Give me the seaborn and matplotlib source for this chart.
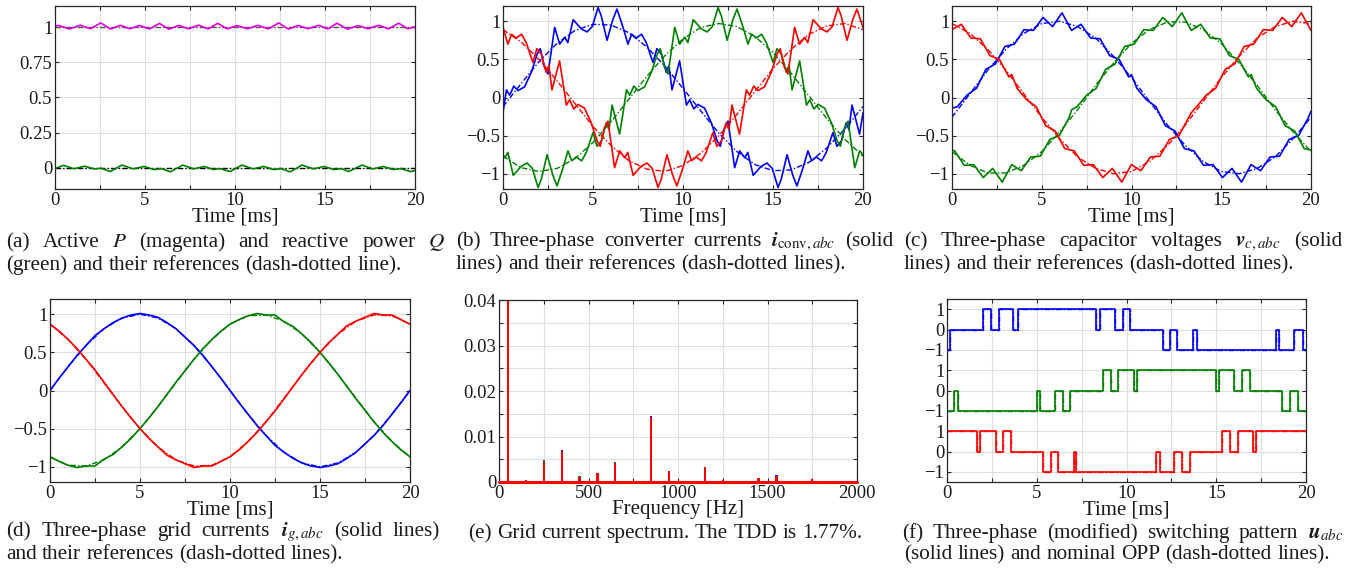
import matplotlib
matplotlib.use("Agg")
import matplotlib.pyplot as plt
import seaborn as sns

# ---------------- data ----------------
# (a) active / reactive power, (t [ms], value)
power_p = [(0.00, 1.008), (0.20, 1.012), (0.80, 0.987), (1.41, 1.014), (1.97, 0.988), (2.54, 1.030),
           (3.08, 0.986), (3.63, 1.013), (4.16, 0.988), (4.69, 1.012), (5.25, 0.987), (5.80, 1.026),
           (6.33, 0.985), (6.87, 1.012), (7.42, 0.988), (7.98, 1.014), (8.51, 0.987), (9.04, 1.027),
           (9.57, 0.987), (10.11, 1.011), (10.70, 0.988), (11.28, 1.013), (11.85, 0.987), (12.43, 1.030),
           (12.96, 0.986), (13.50, 1.012), (14.07, 0.988), (14.65, 1.013), (15.16, 0.987), (15.67, 1.028),
           (16.25, 0.985), (16.83, 1.011), (17.40, 0.988), (17.98, 1.013), (18.53, 0.987), (19.09, 1.028),
           (19.60, 0.988), (20.00, 1.003)]
power_q = [(0.00, -0.004), (0.48, 0.018), (1.05, -0.006), (1.65, 0.012), (2.20, -0.008), (2.55, -0.002),
           (3.07, -0.026), (3.72, 0.020), (4.35, -0.007), (4.95, 0.010), (5.50, -0.012), (5.90, -0.005),
           (6.41, -0.028), (7.09, 0.020), (7.70, -0.007), (8.30, 0.010), (8.80, -0.012), (9.15, -0.005),
           (9.72, -0.026), (10.39, 0.020), (11.00, -0.007), (11.60, 0.010), (12.15, -0.012), (12.55, -0.005),
           (13.07, -0.028), (13.72, 0.020), (14.35, -0.007), (14.95, 0.010), (15.50, -0.012), (15.90, -0.005),
           (16.31, -0.026), (17.06, 0.020), (17.65, -0.007), (18.25, 0.010), (18.80, -0.012), (19.20, -0.005),
           (19.74, -0.026), (20.00, -0.020)]
p_ref = [(0, 1.0), (20, 1.0)]
q_ref = [(0, 0.0), (20, 0.0)]

# references on a 1 ms grid
ref_time = [0, 1, 2, 3, 4, 5, 6, 7, 8, 9, 10, 11, 12, 13, 14, 15, 16, 17, 18, 19, 20]

# (b) converter currents
conv_a = [(0.00, -0.20), (0.19, 0.10), (0.37, 0.03), (0.60, 0.15), (0.83, 0.09), (1.20, 0.14), (1.57, 0.33),
          (1.90, 0.57), (2.07, 0.64), (2.30, 0.40), (2.50, 0.31), (2.87, 0.92), (3.15, 0.70), (3.43, 0.79),
          (3.60, 0.72), (3.90, 1.02), (4.35, 0.90), (4.67, 0.86), (4.96, 0.93), (5.28, 1.18), (5.46, 1.07),
          (5.78, 0.75), (6.10, 1.02), (6.33, 1.16), (6.67, 0.92), (6.94, 0.70), (7.15, 0.83), (7.40, 0.78),
          (7.70, 0.83), (7.96, 0.72), (8.33, 0.46), (8.55, 0.64), (8.80, 0.57), (9.07, 0.33), (9.22, 0.42),
          (9.39, 0.10), (9.81, 0.48), (10.00, 0.20), (10.19, -0.10), (10.37, -0.03), (10.60, -0.15),
          (10.83, -0.09), (11.20, -0.14), (11.57, -0.33), (11.90, -0.57), (12.07, -0.64), (12.30, -0.40),
          (12.50, -0.31), (12.87, -0.92), (13.15, -0.70), (13.43, -0.79), (13.60, -0.72), (13.90, -1.02),
          (14.35, -0.90), (14.67, -0.86), (14.96, -0.93), (15.28, -1.18), (15.46, -1.07), (15.78, -0.75),
          (16.10, -1.02), (16.33, -1.16), (16.67, -0.92), (16.94, -0.70), (17.15, -0.83), (17.40, -0.78),
          (17.70, -0.83), (17.96, -0.72), (18.33, -0.46), (18.55, -0.64), (18.80, -0.57), (19.07, -0.33),
          (19.22, -0.42), (19.39, -0.10), (19.81, -0.48), (20.00, -0.20)]
conv_b = [(0.00, -0.75), (0.10, -0.79), (0.27, -0.72), (0.57, -1.02), (1.02, -0.90), (1.34, -0.86), (1.63, -0.93),
          (1.95, -1.18), (2.13, -1.07), (2.45, -0.75), (2.77, -1.02), (3.00, -1.16), (3.34, -0.92), (3.61, -0.70),
          (3.82, -0.83), (4.07, -0.78), (4.37, -0.83), (4.63, -0.72), (5.00, -0.46), (5.22, -0.64), (5.47, -0.57),
          (5.74, -0.33), (5.89, -0.42), (6.06, -0.10), (6.48, -0.48), (6.67, -0.20), (6.86, 0.10), (7.04, 0.03),
          (7.27, 0.15), (7.50, 0.09), (7.87, 0.14), (8.24, 0.33), (8.57, 0.57), (8.74, 0.64), (8.97, 0.40),
          (9.17, 0.31), (9.54, 0.92), (9.82, 0.70), (10.10, 0.79), (10.27, 0.72), (10.57, 1.02), (11.02, 0.90),
          (11.34, 0.86), (11.63, 0.93), (11.95, 1.18), (12.13, 1.07), (12.45, 0.75), (12.77, 1.02), (13.00, 1.16),
          (13.34, 0.92), (13.61, 0.70), (13.82, 0.83), (14.07, 0.78), (14.37, 0.83), (14.63, 0.72), (15.00, 0.46),
          (15.22, 0.64), (15.47, 0.57), (15.74, 0.33), (15.89, 0.42), (16.06, 0.10), (16.48, 0.48), (16.67, 0.20),
          (16.86, -0.10), (17.04, -0.03), (17.27, -0.15), (17.50, -0.09), (17.87, -0.14), (18.24, -0.33),
          (18.57, -0.57), (18.74, -0.64), (18.97, -0.40), (19.17, -0.31), (19.54, -0.92), (19.82, -0.70),
          (20.00, -0.75)]
conv_c = [(0.00, 0.92), (0.27, 0.70), (0.48, 0.83), (0.73, 0.78), (1.03, 0.83), (1.29, 0.72), (1.66, 0.46),
          (1.88, 0.64), (2.13, 0.57), (2.40, 0.33), (2.55, 0.42), (2.72, 0.10), (3.14, 0.48), (3.33, 0.20),
          (3.52, -0.10), (3.70, -0.03), (3.93, -0.15), (4.16, -0.09), (4.53, -0.14), (4.90, -0.33), (5.23, -0.57),
          (5.40, -0.64), (5.63, -0.40), (5.83, -0.31), (6.20, -0.92), (6.48, -0.70), (6.76, -0.79), (6.93, -0.72),
          (7.23, -1.02), (7.68, -0.90), (8.00, -0.86), (8.29, -0.93), (8.61, -1.18), (8.79, -1.07), (9.11, -0.75),
          (9.43, -1.02), (9.66, -1.16), (10.00, -0.92), (10.27, -0.70), (10.48, -0.83), (10.73, -0.78),
          (11.03, -0.83), (11.29, -0.72), (11.66, -0.46), (11.88, -0.64), (12.13, -0.57), (12.40, -0.33),
          (12.55, -0.42), (12.72, -0.10), (13.14, -0.48), (13.33, -0.20), (13.52, 0.10), (13.70, 0.03),
          (13.93, 0.15), (14.16, 0.09), (14.53, 0.14), (14.90, 0.33), (15.23, 0.57), (15.40, 0.64), (15.63, 0.40),
          (15.83, 0.31), (16.20, 0.92), (16.48, 0.70), (16.76, 0.79), (16.93, 0.72), (17.23, 1.02), (17.68, 0.90),
          (18.00, 0.86), (18.29, 0.93), (18.61, 1.18), (18.79, 1.07), (19.11, 0.75), (19.43, 1.02), (19.66, 1.16),
          (20.00, 0.92)]
conv_ref_a = [-0.12, 0.18, 0.47, 0.71, 0.88, 0.96, 0.95, 0.85, 0.66, 0.41, 0.12, -0.18, -0.47, -0.71, -0.88,
              -0.96, -0.95, -0.85, -0.66, -0.41, -0.12]
conv_ref_b = [-0.77, -0.92, -0.97, -0.93, -0.80, -0.59, -0.32, -0.02, 0.28, 0.55, 0.77, 0.92, 0.97, 0.93, 0.80,
              0.59, 0.32, 0.02, -0.28, -0.55, -0.77]
conv_ref_c = [0.89, 0.73, 0.50, 0.22, -0.08, -0.38, -0.63, -0.83, -0.94, -0.97, -0.89, -0.73, -0.50, -0.22, 0.08,
              0.38, 0.63, 0.83, 0.94, 0.97, 0.89]

# (c) capacitor voltages
cap_a = [(0.00, -0.14), (0.30, -0.12), (0.83, 0.03), (1.36, 0.12), (1.89, 0.37), (2.42, 0.44), (2.95, 0.67),
         (3.48, 0.70), (4.01, 0.89), (4.54, 0.88), (5.07, 1.05), (5.60, 0.93), (6.13, 1.11), (6.66, 0.88),
         (7.19, 0.96), (7.72, 0.78), (8.25, 0.77), (8.78, 0.55), (9.31, 0.50), (9.84, 0.27), (10.00, 0.30),
         (10.30, 0.12), (10.83, -0.03), (11.36, -0.12), (11.89, -0.37), (12.42, -0.44), (12.95, -0.67),
         (13.48, -0.70), (14.01, -0.89), (14.54, -0.88), (15.07, -1.05), (15.60, -0.93), (16.13, -1.11),
         (16.66, -0.88), (17.19, -0.96), (17.72, -0.78), (18.25, -0.77), (18.78, -0.55), (19.31, -0.50),
         (19.84, -0.27), (20.00, -0.18)]
cap_b = [(0.00, -0.69), (0.15, -0.70), (0.68, -0.89), (1.21, -0.88), (1.74, -1.05), (2.27, -0.93), (2.80, -1.11),
         (3.33, -0.88), (3.86, -0.96), (4.39, -0.78), (4.92, -0.77), (5.45, -0.55), (5.98, -0.50), (6.51, -0.27),
         (6.67, -0.16), (6.97, -0.12), (7.50, 0.03), (8.03, 0.12), (8.56, 0.37), (9.09, 0.44), (9.62, 0.67),
         (10.15, 0.70), (10.68, 0.89), (11.21, 0.88), (11.74, 1.05), (12.27, 0.93), (12.80, 1.11), (13.33, 0.88),
         (13.86, 0.96), (14.39, 0.78), (14.92, 0.77), (15.45, 0.55), (15.98, 0.50), (16.51, 0.27), (16.67, 0.30),
         (16.97, 0.12), (17.50, -0.03), (18.03, -0.12), (18.56, -0.37), (19.09, -0.44), (19.62, -0.67),
         (20.00, -0.69)]
cap_c = [(0.00, 0.89), (0.52, 0.96), (1.05, 0.78), (1.58, 0.77), (2.11, 0.55), (2.64, 0.50), (3.17, 0.27),
         (3.33, 0.30), (3.63, 0.12), (4.16, -0.03), (4.69, -0.12), (5.22, -0.37), (5.75, -0.44), (6.28, -0.67),
         (6.81, -0.70), (7.34, -0.89), (7.87, -0.88), (8.40, -1.05), (8.93, -0.93), (9.46, -1.11), (9.99, -0.88),
         (10.52, -0.96), (11.05, -0.78), (11.58, -0.77), (12.11, -0.55), (12.64, -0.50), (13.17, -0.27),
         (13.33, -0.20), (13.63, -0.12), (14.16, 0.03), (14.69, 0.12), (15.22, 0.37), (15.75, 0.44), (16.28, 0.67),
         (16.81, 0.70), (17.34, 0.89), (17.87, 0.88), (18.40, 1.05), (18.93, 0.93), (19.46, 1.11), (20.00, 0.88)]
cap_ref_a = [-0.26, 0.05, 0.36, 0.63, 0.84, 0.97, 1.00, 0.93, 0.78, 0.54, 0.26, -0.05, -0.36, -0.63, -0.84,
             -0.97, -1.00, -0.93, -0.78, -0.54, -0.26]
cap_ref_b = [-0.71, -0.89, -0.99, -0.99, -0.89, -0.71, -0.45, -0.16, 0.16, 0.45, 0.71, 0.89, 0.99, 0.99, 0.89,
             0.71, 0.45, 0.16, -0.16, -0.45, -0.71]
cap_ref_c = [0.97, 0.84, 0.63, 0.36, 0.05, -0.26, -0.54, -0.78, -0.93, -1.00, -0.97, -0.84, -0.63, -0.36, -0.05,
             0.26, 0.54, 0.78, 0.93, 1.00, 0.97]

# (d) grid currents, 0.5 ms grid
grid_time = [0, 0.5, 1, 1.5, 2, 2.5, 3, 3.5, 4, 4.5, 5, 5.5, 6, 6.5, 7, 7.5, 8, 8.5, 9, 9.5, 10,
             10.5, 11, 11.5, 12, 12.5, 13, 13.5, 14, 14.5, 15, 15.5, 16, 16.5, 17, 17.5, 18, 18.5, 19, 19.5, 20]
grid_a = [0.00, 0.16, 0.31, 0.46, 0.59, 0.72, 0.81, 0.89, 0.95, 0.99, 1.01, 0.99, 0.96, 0.89, 0.81, 0.70, 0.59,
          0.46, 0.31, 0.16, 0.00, -0.16, -0.31, -0.46, -0.59, -0.72, -0.81, -0.89, -0.95, -0.99, -1.01, -0.99,
          -0.96, -0.89, -0.81, -0.70, -0.59, -0.46, -0.31, -0.16, 0.00]
grid_b = [-0.87, -0.93, -0.98, -1.01, -0.99, -0.99, -0.90, -0.84, -0.74, -0.63, -0.50, -0.36, -0.21, -0.05, 0.11,
          0.26, 0.41, 0.55, 0.67, 0.78, 0.87, 0.93, 0.98, 1.01, 0.99, 0.99, 0.90, 0.84, 0.74, 0.63, 0.50, 0.36,
          0.21, 0.05, -0.11, -0.26, -0.41, -0.55, -0.67, -0.78, -0.87]
grid_c = [0.87, 0.78, 0.67, 0.55, 0.41, 0.27, 0.11, -0.05, -0.21, -0.36, -0.50, -0.63, -0.74, -0.85, -0.91, -0.96,
          -1.01, -0.99, -0.99, -0.93, -0.87, -0.78, -0.67, -0.55, -0.41, -0.27, -0.11, 0.05, 0.21, 0.36, 0.50,
          0.63, 0.74, 0.85, 0.91, 0.96, 1.01, 0.99, 0.99, 0.93, 0.87]
grid_ref_a = [0.00, 0.31, 0.59, 0.81, 0.95, 1.00, 0.95, 0.81, 0.59, 0.31, 0.00, -0.31, -0.59, -0.81, -0.95,
              -1.00, -0.95, -0.81, -0.59, -0.31, 0.00]
grid_ref_b = [-0.87, -0.98, -0.99, -0.91, -0.74, -0.50, -0.21, 0.10, 0.41, 0.67, 0.87, 0.98, 0.99, 0.91, 0.74,
              0.50, 0.21, -0.10, -0.41, -0.67, -0.87]
grid_ref_c = [0.87, 0.67, 0.41, 0.10, -0.21, -0.50, -0.74, -0.91, -0.99, -0.98, -0.87, -0.67, -0.41, -0.10, 0.21,
              0.50, 0.74, 0.91, 0.99, 0.98, 0.87]

# (e) grid current spectrum
harm_freq = [50, 150, 250, 350, 450, 550, 650, 850, 950, 1150, 1250, 1450, 1550, 1750, 1850]
spec_a = [1.0, 0.0003, 0.0044, 0.0070, 0.0010, 0.0017, 0.0041, 0.0144, 0.0024, 0.0032, 0.0004, 0.0008, 0.0015, 0.0006, 0.0002]
spec_b = [1.0, 0.0003, 0.0048, 0.0066, 0.0013, 0.0018, 0.0043, 0.0142, 0.0024, 0.0031, 0.0004, 0.0007, 0.0013, 0.0005, 0.0002]
spec_c = [1.0, 0.0004, 0.0045, 0.0068, 0.0011, 0.0019, 0.0042, 0.0143, 0.0025, 0.0032, 0.0005, 0.0008, 0.0014, 0.0006, 0.0002]

# (f) switching pattern: (switching instant [ms], level)
sw_a = [(0, -1), (0.19, 0), (2.00, 1), (2.45, 0), (2.90, 1), (3.70, 0), (3.93, 1), (8.31, 0), (8.53, 1),
        (9.37, 0), (9.78, 1), (10.20, 0), (12.02, -1), (12.43, 0), (12.84, -1), (13.69, 0), (13.91, -1),
        (18.31, 0), (18.52, -1), (19.33, 0), (19.81, -1), (20, -1)]
sw_b = [(0, -1), (0.37, 0), (0.59, -1), (5.01, 0), (5.19, -1), (6.03, 0), (6.44, -1), (6.86, 0), (8.68, 1),
        (9.13, 0), (9.55, 1), (10.39, 0), (10.58, 1), (14.97, 0), (15.18, 1), (16.01, 0), (16.42, 1),
        (16.88, 0), (18.65, -1), (19.11, 0), (19.54, -1), (20, -1)]
sw_c = [(0, 1), (1.67, 0), (1.86, 1), (2.73, 0), (3.12, 1), (3.56, 0), (5.34, -1), (5.79, 0), (6.20, -1),
        (7.05, 0), (7.20, -1), (11.63, 0), (11.84, -1), (12.67, 0), (13.10, -1), (13.54, 0), (15.32, 1),
        (15.77, 0), (16.20, 1), (17.03, 0), (17.22, 1), (20, 1)]

time_ticks = [0, 2.5, 5, 7.5, 10, 12.5, 15, 17.5, 20]
time_labels = ["0", "", "5", "", "10", "", "15", "", "20"]
pm_ticks = [-1, -0.5, 0, 0.5, 1]
pm_labels = ["\u22121", "\u22120.5", "0", "0.5", "1"]

# ---------------- styling ----------------
sns.set_style("ticks")
plt.rcParams["font.family"] = ["Liberation Serif", "DejaVu Serif"]
plt.rcParams["mathtext.fontset"] = "stix"

BLUE, GREEN, RED, MAG = "#0000ff", "#008000", "#ff0000", "#e000e0"
INK = "#1a1a1a"
DASHDOT = (0, (4, 1.5, 1, 1.5))
W, H = 1365, 572
fig = plt.figure(figsize=(W / 100, H / 100), dpi=100)


def make_ax(l, t, r, b):
    return fig.add_axes([l / W, 1 - b / H, (r - l) / W, (b - t) / H])


def style_ax(ax, xt, xl, yt, yl, xlim, ylim, xlabel):
    ax.set_xlim(xlim)
    ax.set_ylim(ylim)
    ax.set_xticks(xt)
    ax.set_xticklabels(xl)
    ax.set_yticks(yt)
    ax.set_yticklabels(yl)
    ax.grid(True, color="#dedede", lw=0.8)
    ax.set_axisbelow(True)
    ax.tick_params(direction="in", top=True, right=True, length=3, width=0.8,
                   color="#262626", labelsize=13.4, pad=2.0, labelcolor=INK)
    for s in ax.spines.values():
        s.set_visible(True)
        s.set_color("#262626")
        s.set_linewidth(0.9)
    ax.set_xlabel(xlabel, fontsize=15, color=INK)
    ax.xaxis.set_label_coords(0.5, -0.152)
    ax.xaxis.label.set_va("center")


def trace(ax, pts, color, lw=1.2, ls="-", **kw):
    sns.lineplot(x=[p[0] for p in pts], y=[p[1] for p in pts], ax=ax, color=color,
                 lw=lw, linestyle=ls, estimator=None, sort=False, **kw)


def ref_trace(ax, vals, color):
    sns.lineplot(x=ref_time, y=vals, ax=ax, color=color, lw=1.0,
                 linestyle=DASHDOT, estimator=None, sort=False)


# (a)
ax = make_ax(55, 6, 415, 189)
trace(ax, p_ref, "#555555", lw=1.0, ls=DASHDOT)
trace(ax, q_ref, "#000000", lw=1.0, ls=DASHDOT)
trace(ax, power_p, MAG, lw=1.2)
trace(ax, power_q, GREEN, lw=1.2)
style_ax(ax, time_ticks, time_labels, [0, 0.25, 0.5, 0.75, 1], ["0", "0.25", "0.5", "0.75", "1"],
         (0, 20), (-0.15, 1.15), "Time [ms]")

# (b)
ax = make_ax(503, 6, 863, 189)
for vals, col in [(conv_ref_a, BLUE), (conv_ref_b, GREEN), (conv_ref_c, RED)]:
    ref_trace(ax, vals, col)
for pts, col in [(conv_a, BLUE), (conv_b, GREEN), (conv_c, RED)]:
    trace(ax, pts, col)
style_ax(ax, time_ticks, time_labels, pm_ticks, pm_labels, (0, 20), (-1.2, 1.2), "Time [ms]")

# (c)
ax = make_ax(952, 6, 1311, 189)
for vals, col in [(cap_ref_a, BLUE), (cap_ref_b, GREEN), (cap_ref_c, RED)]:
    ref_trace(ax, vals, col)
for pts, col in [(cap_a, BLUE), (cap_b, GREEN), (cap_c, RED)]:
    trace(ax, pts, col)
style_ax(ax, time_ticks, time_labels, pm_ticks, pm_labels, (0, 20), (-1.2, 1.2), "Time [ms]")

# (d)
ax = make_ax(50, 299, 410, 482)
for vals, col in [(grid_ref_a, BLUE), (grid_ref_b, GREEN), (grid_ref_c, RED)]:
    ref_trace(ax, vals, col)
for vals, col in [(grid_a, BLUE), (grid_b, GREEN), (grid_c, RED)]:
    sns.lineplot(x=grid_time, y=vals, ax=ax, color=col, lw=1.2, estimator=None, sort=False)
style_ax(ax, time_ticks, time_labels, pm_ticks, pm_labels, (0, 20), (-1.2, 1.2), "Time [ms]")

# (e)
ax = make_ax(499, 300, 857, 482)
for vals, col in [(spec_a, BLUE), (spec_b, GREEN), (spec_c, RED)]:
    ax.bar(harm_freq, vals, width=12, color=col, linewidth=0)
ax.axhline(0, color=RED, lw=2.2, clip_on=False, zorder=3)
style_ax(ax, [0, 250, 500, 750, 1000, 1250, 1500, 1750, 2000],
         ["0", "", "500", "", "1000", "", "1500", "", "2000"],
         [0, 0.005, 0.01, 0.015, 0.02, 0.025, 0.03, 0.035, 0.04],
         ["0", "", "0.01", "", "0.02", "", "0.03", "", "0.04"],
         (0, 2000), (0, 0.04), "Frequency [Hz]")

# (f)
ax = make_ax(947, 299, 1306, 482)
offsets = [(sw_a, BLUE, 3), (sw_b, GREEN, 0), (sw_c, RED, -3)]
for pts, col, off in offsets:
    shifted = [(t, v + off) for t, v in pts]
    trace(ax, shifted, col, lw=1.0, ls=DASHDOT, drawstyle="steps-post")
    trace(ax, shifted, col, lw=1.2, drawstyle="steps-post")
style_ax(ax, time_ticks, time_labels, [-4, -3, -2, -1, 0, 1, 2, 3, 4],
         ["\u22121", "0", "1", "\u22121", "0", "1", "\u22121", "0", "1"],
         (0, 20), (-4.5, 4.5), "Time [ms]")

# ---------------- captions ----------------
renderer = fig.canvas.get_renderer()
CAP = 15.3
SPACE = 0.25 * CAP * 100 / 72


def caption(text, x0, y, x1=None, center=False):
    words = text.split(" ")
    objs = [fig.text(0, 1 - y / H, w, fontsize=CAP, va="baseline", ha="left", color=INK) for w in words]
    widths = [o.get_window_extent(renderer).width for o in objs]
    gap = SPACE
    start = x0
    if center:
        start = x0 - (sum(widths) + SPACE * (len(words) - 1)) / 2
    elif x1 is not None:
        gap = (x1 - x0 - sum(widths)) / (len(words) - 1)
    x = start
    for o, w in zip(objs, widths):
        o.set_x(x / W)
        x += w + gap


caption(r"(a) Active $P$ (magenta) and reactive power $Q$", 6, 247, 445)
caption("(green) and their references (dash-dotted line).", 6, 270)
caption(r"(b) Three-phase converter currents $\boldsymbol{i}_{\mathrm{conv},abc}$ (solid", 456, 246, 893)
caption("lines) and their references (dash-dotted lines).", 456, 269)
caption(r"(c) Three-phase capacitor voltages $\boldsymbol{v}_{c,abc}$ (solid", 904, 246, 1342)
caption("lines) and their references (dash-dotted lines).", 904, 269)
caption(r"(d) Three-phase grid currents $\boldsymbol{i}_{g,abc}$ (solid lines)", 6, 536, 440)
caption("and their references (dash-dotted lines).", 6, 559)
caption("(e) Grid current spectrum. The TDD is 1.77%.", 665, 538, center=True)
caption(r"(f) Three-phase (modified) switching pattern $\boldsymbol{u}_{abc}$", 902, 538, 1343)
caption("(solid lines) and nominal OPP (dash-dotted lines).", 904, 559)

fig.savefig("out.png", dpi=100)
